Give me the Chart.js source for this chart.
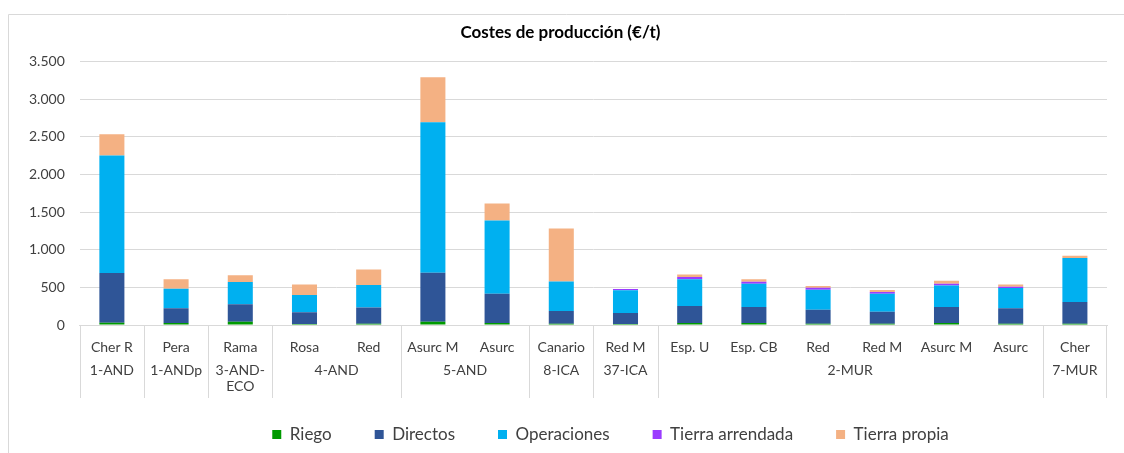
<!DOCTYPE html>
<html>
<head>
<meta charset="utf-8">
<script src="https://cdn.jsdelivr.net/npm/chart.js@4.4.1/dist/chart.umd.min.js"></script>
<style>
  body { margin: 0; background: #fff; }
  #wrap { width: 1124px; height: 453px; }
</style>
</head>
<body>
<div id="wrap"><canvas id="canvas"></canvas></div>
<script>

let labels = ['Cher R','Pera','Rama','Rosa','Red','Asurc M','Asurc','Canario','Red M','Esp. U','Esp. CB','Red','Red M','Asurc M','Asurc','Cher'];
let groupNames = [['1-AND'],['1-ANDp'],['3-AND-','ECO'],['4-AND'],['5-AND'],['8-ICA'],['37-ICA'],['2-MUR'],['7-MUR']];
let groupSizes = [1,1,1,2,2,1,1,6,1];

let riego       = [30,25,44,13,18,44,27,18,13,27,27,18,18,27,18,18];
let directos    = [660,196,230,155,216,650,389,168,146,225,212,185,159,212,203,287];
let operaciones = [1560,261,296,230,296,1997,972,393,301,354,309,265,239,287,270,583];
let arrendada   = [0,0,0,0,0,0,0,0,17,30,27,27,22,22,17,0];
let propia      = [283,124,89,141,208,597,225,703,0,36,31,22,26,40,31,31];

let yTicks = [0,500,1000,1500,2000,2500,3000,3500];

let font = 'Lato';
let textColor = '#404040';
let lineColor = '#d9d9d9';

// outer frame of the chart
let framePlugin = {
    id: 'frame',
    beforeDraw: function(chart){
        let ctx = chart.ctx;
        ctx.save();
        ctx.strokeStyle = lineColor;
        ctx.lineWidth = 1;
        ctx.beginPath();
        ctx.moveTo(8.5, chart.height + 2);
        ctx.lineTo(8.5, 14.5);
        ctx.lineTo(chart.width + 2, 14.5);
        ctx.stroke();
        ctx.restore();
    }
};

// legend sits a bit right of centre in the original
let legendShift = {
    id: 'legendShift',
    afterLayout: function(chart){
        chart.legend.left += 50;
        chart.legend.right += 50;
    }
};

// second row of the x axis: group names and separators
let groupPlugin = {
    id: 'groups',
    afterDraw: function(chart){
        let ctx = chart.ctx;
        let x = chart.scales.x;
        let half = (x.getPixelForValue(1) - x.getPixelForValue(0)) / 2;
        let top = x.top;
        ctx.save();
        ctx.strokeStyle = lineColor;
        ctx.lineWidth = 1;
        ctx.fillStyle = textColor;
        ctx.font = '14px ' + font;
        ctx.textAlign = 'center';
        ctx.textBaseline = 'middle';
        let start = 0;
        for(let g = 0; g < groupSizes.length; g++){
            let end = start + groupSizes[g] - 1;
            let left = Math.round(x.getPixelForValue(start) - half) + 0.5;
            ctx.beginPath();
            ctx.moveTo(left, top);
            ctx.lineTo(left, top + 73);
            ctx.stroke();
            let cx = (x.getPixelForValue(start) + x.getPixelForValue(end)) / 2;
            let lines = groupNames[g];
            for(let k = 0; k < lines.length; k++){
                ctx.fillText(lines[k], cx, top + 45 + k * 16);
            }
            start = end + 1;
        }
        let right = Math.round(x.getPixelForValue(labels.length - 1) + half) - 0.5;
        ctx.beginPath();
        ctx.moveTo(right, top);
        ctx.lineTo(right, top + 73);
        ctx.stroke();
        ctx.restore();
    }
};

function makeSet(label, data, color){
    return {
        label: label,
        data: data,
        backgroundColor: color,
        borderWidth: 0,
        categoryPercentage: 1,
        barPercentage: 0.39
    };
}

let options = {
    type: 'bar',
    data: {
        labels: labels,
        datasets: [
            makeSet('Riego', riego, '#009a00'),
            makeSet('Directos', directos, '#2f5597'),
            makeSet('Operaciones', operaciones, '#00b0f0'),
            makeSet('Tierra arrendada', arrendada, '#9b3cff'),
            makeSet('Tierra propia', propia, '#f4b183')
        ]
    },
    options: {
        responsive: true,
        maintainAspectRatio: false,
        animation: false,
        layout: { padding: { top: 18, left: 14, right: 17, bottom: 0 } },
        plugins: {
            title: {
                display: true,
                text: 'Costes de producción (€/t)',
                color: '#000',
                font: { family: font, size: 17, weight: 'bold' },
                padding: { top: 4, bottom: 19 }
            },
            legend: {
                position: 'bottom',
                maxHeight: 73,
                labels: {
                    color: textColor,
                    font: { family: font, size: 17 },
                    boxWidth: 9,
                    boxHeight: 9,
                    padding: 43
                }
            },
            tooltip: { enabled: false }
        },
        scales: {
            x: {
                stacked: true,
                grid: { display: false, drawTicks: false },
                border: { color: lineColor },
                ticks: {
                    color: textColor,
                    font: { family: font, size: 14 },
                    padding: 14,
                    maxRotation: 0,
                    autoSkip: false
                },
                afterFit: function(scale){ scale.height = 58; }
            },
            y: {
                stacked: true,
                min: 0,
                max: 3500,
                grid: { color: lineColor, drawTicks: false },
                border: { display: false },
                afterBuildTicks: function(scale){
                    scale.ticks = yTicks.map(function(v){ return { value: v }; });
                },
                ticks: {
                    color: textColor,
                    font: { family: font, size: 14 },
                    padding: 15,
                    callback: function(v){
                        return String(v).replace(/\B(?=(\d{3})+(?!\d))/g, '.');
                    }
                }
            }
        }
    },
    plugins: [framePlugin, legendShift, groupPlugin]
};

let chart = new Chart(document.getElementById('canvas'), options);

</script>
</body>
</html>
